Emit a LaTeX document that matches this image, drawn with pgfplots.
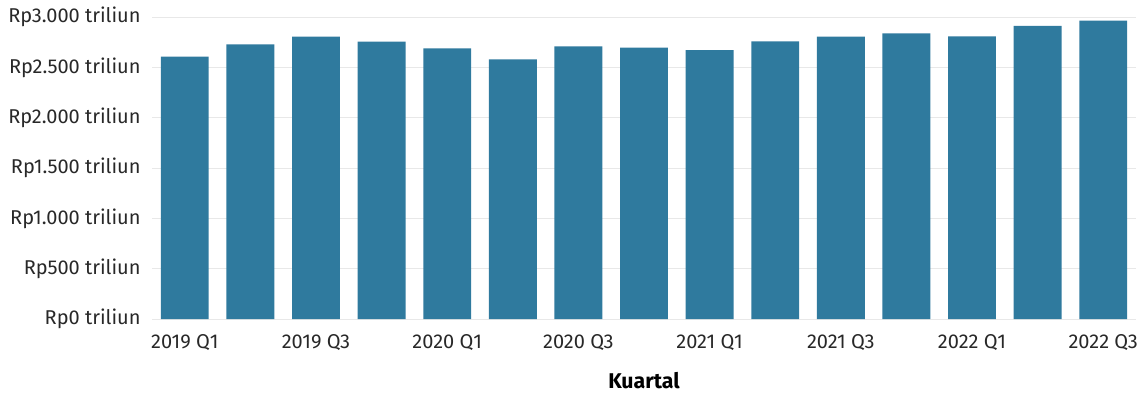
\documentclass[border=0pt]{standalone}
\usepackage{pgfplots}
\pgfplotsset{compat=1.18}
\usepackage{fontspec}
\setmainfont{Fira Sans}
\definecolor{barblue}{RGB}{47,122,158}
\definecolor{txt}{RGB}{40,40,40}
\definecolor{gridc}{RGB}{232,232,232}
\begin{document}
\begin{tikzpicture}
\begin{axis}[
  at={(114pt,57.75pt)}, anchor=south west,
  scale only axis,
  width=738pt, height=226.5pt,
  xmin=-0.5, xmax=14.5,
  ymin=0, ymax=3000,
  ybar, bar width=0.73,
  axis line style={draw=none},
  tick style={draw=none},
  ymajorgrids, grid style={gridc, line width=0.6pt},
  ytick={0,500,1000,1500,2000,2500,3000},
  yticklabels={Rp0 triliun,Rp500 triliun,Rp1.000 triliun,Rp1.500 triliun,Rp2.000 triliun,Rp2.500 triliun,Rp3.000 triliun},
  xtick={0,2,4,6,8,10,12,14},
  xticklabels={2019 Q1,2019 Q3,2020 Q1,2020 Q3,2021 Q1,2021 Q3,2022 Q1,2022 Q3},
  ticklabel style={font=\fontsize{15}{17}\selectfont, text=txt},
  yticklabel style={xshift=-5pt},
  xticklabel style={yshift=-3.5pt},
  xlabel={\textbf{Kuartal}},
  xlabel style={font=\fontsize{16}{19}\selectfont, text=black, yshift=-9.5pt},
  /pgf/number format/assume math mode=true,
]
\addplot[fill=barblue, draw=none] coordinates {
(0,2606) (1,2729) (2,2805) (3,2755) (4,2689) (5,2580) (6,2709) (7,2695)
(8,2672) (9,2758) (10,2805) (11,2838) (12,2808) (13,2911) (14,2963)};
\end{axis}
\pgfresetboundingbox
\useasboundingbox (0,0) rectangle (855.75pt,297pt);
\end{tikzpicture}
\end{document}
